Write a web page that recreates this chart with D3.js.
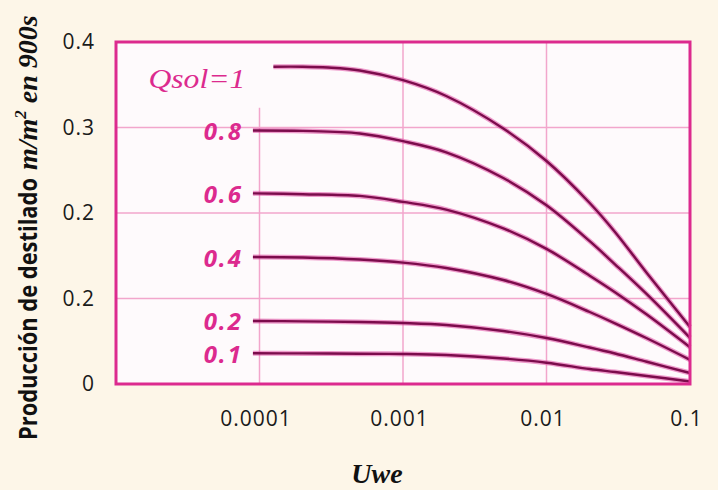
<!DOCTYPE html>
<html><head><meta charset="utf-8">
<script src="https://cdn.jsdelivr.net/npm/d3@7/dist/d3.min.js"></script>
<style>
html,body{margin:0;padding:0;background:#fdf6e8;}
svg{display:block;}
</style></head>
<body>
<svg id="chart" width="718" height="490"></svg>
<script>
// ---- data ----
const uwe = [9e-5, 2e-4, 5e-4, 1e-3, 2e-3, 5e-3, 1e-2, 2e-2, 3e-2, 5e-2, 1e-1];
const uweQ1 = [1.25e-4, 2e-4, 3e-4, 5e-4, 1e-3, 2e-3, 5e-3, 1e-2, 2e-2, 3e-2, 5e-2, 1e-1];
const qsolLabels = ["Qsol=1", "0.8", "0.6", "0.4", "0.2", "0.1"];
const q10 = [0.3711, 0.3711, 0.3701, 0.3667, 0.3553, 0.3368, 0.2988, 0.2608, 0.2117, 0.1778, 0.1298, 0.0667];
const q08 = [0.2965, 0.296, 0.293, 0.284, 0.271, 0.241, 0.209, 0.167, 0.140, 0.105, 0.054];
const q06 = [0.223, 0.222, 0.220, 0.213, 0.204, 0.182, 0.158, 0.1267, 0.1074, 0.0812, 0.043];
const q04 = [0.1485, 0.148, 0.1456, 0.142, 0.1357, 0.1216, 0.1053, 0.0842, 0.071, 0.0535, 0.0283];
const q02 = [0.0737, 0.0733, 0.0725, 0.0713, 0.069, 0.062, 0.0538, 0.0427, 0.0357, 0.026, 0.0129];
const q01 = [0.0359, 0.0358, 0.0354, 0.0351, 0.0339, 0.0298, 0.0249, 0.0175, 0.014, 0.0094, 0.003];
const xTicks = [1e-4, 1e-3, 1e-2, 1e-1];
const xTickLabels = ["0.0001", "0.001", "0.01", "0.1"];
const yTicks = [0, 0.1, 0.2, 0.3, 0.4];
const yTickLabels = ["0", "0.2", "0.2", "0.3", "0.4"];
const yTitle = "Producción de destilado";
const yTitleUnit = ["m/m", "2", " en 900s"];
const xTitle = "Uwe";

const series = [
  {label: qsolLabels[0], xs: uweQ1, ys: q10},
  {label: qsolLabels[1], xs: uwe, ys: q08},
  {label: qsolLabels[2], xs: uwe, ys: q06},
  {label: qsolLabels[3], xs: uwe, ys: q04},
  {label: qsolLabels[4], xs: uwe, ys: q02},
  {label: qsolLabels[5], xs: uwe, ys: q01}
];

// ---- layout ----
const L = 116, R = 690, T = 42, B = 384;
const svg = d3.select("#chart");
const x = d3.scaleLog().domain([1e-5, 1e-1]).range([L, R]);
const y = d3.scaleLinear().domain([0, 0.4]).range([B, T]);

const pink = "#dc2a8e";
const grid = "#f2a6cc";

// plot background
svg.append("rect").attr("x", L).attr("y", T).attr("width", R - L).attr("height", B - T)
  .attr("fill", "#fefafc");

// gridlines
const g = svg.append("g");
[0.1, 0.2, 0.3].forEach(v => {
  g.append("line").attr("x1", L).attr("x2", R).attr("y1", y(v)).attr("y2", y(v))
    .attr("stroke", grid).attr("stroke-width", 1.5);
});
[1e-3, 1e-2].forEach(v => {
  g.append("line").attr("x1", x(v)).attr("x2", x(v)).attr("y1", T).attr("y2", B)
    .attr("stroke", grid).attr("stroke-width", 1.5);
});
g.append("line").attr("x1", x(1e-4)).attr("x2", x(1e-4)).attr("y1", y(0.323)).attr("y2", B)
  .attr("stroke", grid).attr("stroke-width", 1.5);

// curves
const line = d3.line().x(d => x(d[0])).y(d => y(d[1])).curve(d3.curveCatmullRom.alpha(0.5));
series.forEach(s => {
  const pts = s.xs.map((u, i) => [u, s.ys[i]]);
  svg.append("path").attr("d", line(pts)).attr("fill", "none")
    .attr("stroke", "#e04aa2").attr("stroke-width", 5).attr("stroke-opacity", 0.55);
  svg.append("path").attr("d", line(pts)).attr("fill", "none")
    .attr("stroke", "#7c0c4c").attr("stroke-width", 2.4);
});

// curve labels
series.forEach((s, i) => {
  if (i === 0) {
    svg.append("text").attr("x", x(s.xs[0]) - 28).attr("y", y(s.ys[0]) + 21)
      .attr("text-anchor", "end")
      .attr("font-family", "Liberation Serif, serif").attr("font-style", "italic")
      .attr("font-size", 28).attr("fill", pink)
      .attr("textLength", 97).attr("lengthAdjust", "spacingAndGlyphs")
      .text(s.label);
  } else {
    svg.append("text").attr("x", x(s.xs[0]) - 10).attr("y", y(s.ys[0]))
      .attr("text-anchor", "end").attr("dominant-baseline", "central")
      .attr("font-family", "Open Sans, sans-serif").attr("font-style", "italic")
      .attr("font-weight", "bold").attr("font-size", 24).attr("letter-spacing", 2)
      .attr("fill", pink).text(s.label);
  }
});

// frame
svg.append("rect").attr("x", L).attr("y", T).attr("width", R - L).attr("height", B - T)
  .attr("fill", "none").attr("stroke", pink).attr("stroke-width", 3);

// axes
const xAxis = d3.axisBottom(x).tickValues(xTicks).tickSize(0).tickPadding(27)
  .tickFormat((d, i) => xTickLabels[i]);
const gx = svg.append("g").attr("transform", `translate(0,${B})`).call(xAxis);
gx.select(".domain").remove();
gx.selectAll("text").attr("font-family", "Open Sans, sans-serif").attr("font-size", 21)
  .attr("letter-spacing", 1).attr("fill", "#1a1a1a").attr("dx", -4);

const yAxis = d3.axisLeft(y).tickValues(yTicks).tickSize(0).tickPadding(21)
  .tickFormat((d, i) => yTickLabels[i]);
const gy = svg.append("g").attr("transform", `translate(${L},0)`).call(yAxis);
gy.select(".domain").remove();
gy.selectAll("text").attr("font-family", "Open Sans, sans-serif").attr("font-size", 21)
  .attr("letter-spacing", 1).attr("fill", "#1a1a1a");

// titles
const yt = svg.append("g").attr("transform", "translate(37,440) rotate(-90)");
yt.append("text").attr("x", 0).attr("y", 0)
  .attr("font-family", "Open Sans, sans-serif").attr("font-weight", "bold")
  .attr("font-size", 25).attr("fill", "#111")
  .attr("textLength", 262).attr("lengthAdjust", "spacingAndGlyphs").text(yTitle);
const yu = yt.append("text").attr("x", 270).attr("y", 0)
  .attr("font-family", "Liberation Serif, serif").attr("font-weight", "bold")
  .attr("font-style", "italic").attr("font-size", 28).attr("fill", "#111");
yu.append("tspan").text(yTitleUnit[0]);
yu.append("tspan").attr("dy", -11).attr("font-size", 17).text(yTitleUnit[1]);
yu.append("tspan").attr("dy", 11).text(yTitleUnit[2]);

svg.append("text").attr("x", 377).attr("y", 483).attr("text-anchor", "middle")
  .attr("font-family", "Liberation Serif, serif").attr("font-weight", "bold")
  .attr("font-style", "italic").attr("font-size", 28).attr("fill", "#111").text(xTitle);
</script>
</body></html>
